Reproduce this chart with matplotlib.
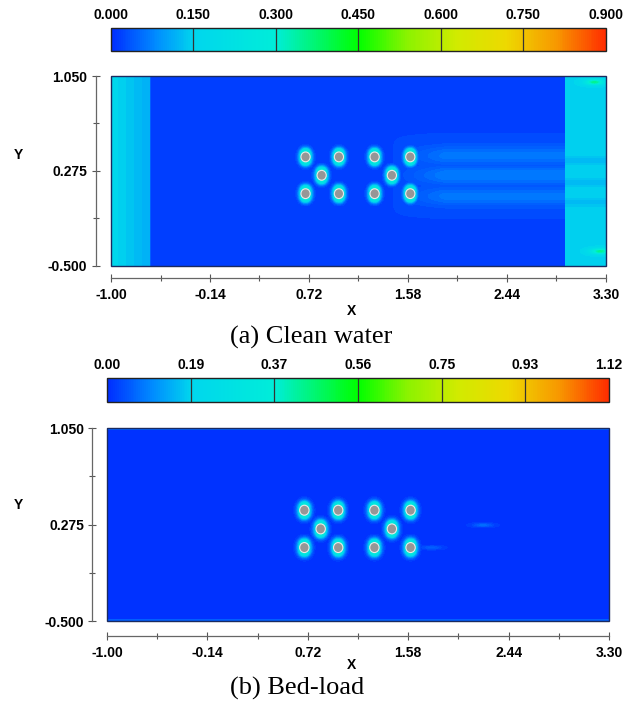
import numpy as np
import matplotlib.pyplot as plt
from matplotlib.colors import LinearSegmentedColormap, Normalize
from matplotlib.cm import ScalarMappable
from matplotlib.patches import Circle, Rectangle

# domain and axis ticks
x_range = [-1.00, 3.30]
y_range = [-0.500, 1.050]
x_ticks = [-1.00, -0.14, 0.72, 1.58, 2.44, 3.30]
y_ticks = [-0.500, 0.275, 1.050]

# pile centres
pile_x = [0.69, 0.98, 1.29, 1.60, 0.83, 1.44, 0.69, 0.98, 1.29, 1.60]
pile_y = [0.39, 0.39, 0.39, 0.39, 0.24, 0.24, 0.09, 0.09, 0.09, 0.09]
pile_r = 0.04

# (a) clean water
cw_ticks = [0.000, 0.150, 0.300, 0.450, 0.600, 0.750, 0.900]
cw_tick_labels = ['0.000', '0.150', '0.300', '0.450', '0.600', '0.750', '0.900']
cw_background = 0.02
cw_inlet_end = -0.66
cw_inlet_level = [0.16, 0.11]
cw_outlet_start = 2.95
cw_outlet_level = 0.15
cw_outlet_stripe_y = [0.36, 0.18, 0.02]
cw_wake_y = [0.40, 0.24, 0.07]
cw_wake_level = [0.045, 0.05, 0.045]
cw_halo = 0.17
cw_spot_x = [3.20, 3.25]
cw_spot_y = [1.00, -0.38]

# (b) bed-load
bl_ticks = [0.00, 0.19, 0.37, 0.56, 0.75, 0.93, 1.12]
bl_tick_labels = ['0.00', '0.19', '0.37', '0.56', '0.75', '0.93', '1.12']
bl_background = 0.01
bl_edge_level = 0.06
bl_halo = 0.21
bl_streak_x = [2.22, 1.78]
bl_streak_y = [0.27, 0.09]
bl_streak_level = [0.06, 0.045]

cmap = LinearSegmentedColormap.from_list('tecplot', [
    (0.00, (0.00, 0.18, 1.00)),
    (0.09, (0.00, 0.55, 1.00)),
    (0.167, (0.00, 0.84, 0.93)),
    (0.333, (0.00, 0.93, 0.85)),
    (0.50, (0.00, 1.00, 0.00)),
    (0.60, (0.55, 0.95, 0.00)),
    (0.70, (0.82, 0.92, 0.00)),
    (0.80, (0.93, 0.85, 0.00)),
    (0.90, (0.97, 0.60, 0.00)),
    (1.00, (1.00, 0.18, 0.00)),
])

X, Y = np.meshgrid(np.linspace(*x_range, 861), np.linspace(*y_range, 311))


def halo_field(level):
    f = np.zeros_like(X)
    for px, py in zip(pile_x, pile_y):
        r = np.hypot((X - px) * 1.1, Y - py)
        s = ((Y - py) / np.maximum(r, 1e-6)) ** 2
        d = np.maximum(r - pile_r, 0)
        f = np.maximum(f, level * np.exp(-(d / 0.032) ** 1.6) * (1 + 0.8 * s))
    return f


def clean_water():
    f = np.full_like(X, cw_background)
    t = (X - x_range[0]) / (cw_inlet_end - x_range[0])
    inlet = cw_inlet_level[0] + (cw_inlet_level[1] - cw_inlet_level[0]) * t
    f = np.where(X < cw_inlet_end, inlet, f)
    wake = np.zeros_like(X)
    ramp = np.clip((X - 1.45) / 0.45, 0, 1)
    for wy, wl in zip(cw_wake_y, cw_wake_level):
        wake = np.maximum(wake, wl * ramp * np.exp(-((Y - wy) / 0.08) ** 2))
    f = np.where((X >= cw_inlet_end) & (X < cw_outlet_start), f + wake, f)
    out = np.full_like(X, cw_outlet_level)
    for sy in cw_outlet_stripe_y:
        out -= 0.025 * np.exp(-((Y - sy) / 0.04) ** 2)
    f = np.where(X >= cw_outlet_start, out, f)
    for sx, sy in zip(cw_spot_x, cw_spot_y):
        f += 0.2 * np.exp(-(((X - sx) / 0.08) ** 2 + ((Y - sy) / 0.02) ** 2))
    return np.maximum(f, halo_field(cw_halo))


def bed_load():
    f = np.full_like(X, bl_background)
    f = np.where((Y > y_range[1] - 0.012) | (Y < y_range[0] + 0.012), bl_edge_level, f)
    for sx, sy, sl in zip(bl_streak_x, bl_streak_y, bl_streak_level):
        f += sl * np.exp(-(((X - sx) / 0.08) ** 2 + ((Y - sy) / 0.012) ** 2))
    return np.maximum(f, halo_field(bl_halo))


def draw_panel(ax, cax, field, vmax, ticks, tick_labels, yoff, xoff):
    ax.contourf(X, Y, field, levels=np.linspace(0, vmax, 90), cmap=cmap, extend='both')
    for px, py in zip(pile_x, pile_y):
        ax.add_patch(Circle((px, py), pile_r, facecolor='#969696', edgecolor='#e8e8e8', lw=0.8, zorder=3))
    ax.add_patch(Rectangle((0, 0), 1, 1, transform=ax.transAxes, fill=False,
                           edgecolor='#1a2a60', lw=1.0, zorder=5, clip_on=False))
    ax.set_xlim(*x_range)
    ax.set_ylim(*y_range)
    ax.spines[['top', 'right']].set_visible(False)
    ax.spines['left'].set_position(('outward', yoff))
    ax.spines['bottom'].set_position(('outward', xoff))
    for s in ['left', 'bottom']:
        ax.spines[s].set_color('#666666')
        ax.spines[s].set_linewidth(0.9)
    ax.set_xticks(x_ticks)
    ax.set_xticklabels(['%.2f' % v for v in x_ticks])
    ax.set_yticks(y_ticks)
    ax.set_yticklabels(['%.3f' % v for v in y_ticks])
    ax.set_xticks([(a + b) / 2 for a, b in zip(x_ticks[:-1], x_ticks[1:])], minor=True)
    ax.set_yticks([(a + b) / 2 for a, b in zip(y_ticks[:-1], y_ticks[1:])], minor=True)
    ax.tick_params(which='both', direction='inout', color='#555555', width=0.8)
    ax.tick_params(which='major', length=6)
    ax.tick_params(which='minor', length=5)
    ax.tick_params(axis='x', pad=4)
    ax.tick_params(axis='y', pad=3)
    for lab in ax.get_xticklabels() + ax.get_yticklabels():
        lab.set_fontweight('bold')
        lab.set_fontsize(10)

    cb = fig.colorbar(ScalarMappable(Normalize(0, vmax), cmap), cax=cax, orientation='horizontal')
    pos = np.linspace(0, vmax, len(ticks))
    cb.set_ticks(pos)
    cb.set_ticklabels(tick_labels)
    cax.xaxis.set_ticks_position('top')
    cax.tick_params(length=0, pad=4)
    for lab in cax.get_xticklabels():
        lab.set_fontweight('bold')
        lab.set_fontsize(10)
    for p in pos[1:-1]:
        cax.axvline(p, color='#333333', lw=0.9)
    cb.outline.set_edgecolor('#222222')
    cb.outline.set_linewidth(1.0)


plt.rcParams['font.family'] = ['Liberation Sans', 'DejaVu Sans']
fig = plt.figure(figsize=(6.42, 7.07), dpi=100)

ax1 = fig.add_axes([0.1729, 0.6238, 0.771, 0.2687])
cax1 = fig.add_axes([0.1729, 0.9279, 0.771, 0.0325])
draw_panel(ax1, cax1, clean_water(), 0.9, cw_ticks, cw_tick_labels, 11, 9)

ax2 = fig.add_axes([0.1667, 0.1216, 0.782, 0.2730])
cax2 = fig.add_axes([0.1667, 0.4314, 0.782, 0.0340])
draw_panel(ax2, cax2, bed_load(), 1.12, bl_ticks, bl_tick_labels, 10.5, 11)

fig.text(0.028, 0.7808, 'Y', fontsize=10, fontweight='bold', ha='center', va='center')
fig.text(0.028, 0.2857, 'Y', fontsize=10, fontweight='bold', ha='center', va='center')
fig.text(0.548, 0.5601, 'X', fontsize=10, fontweight='bold', ha='center', va='center')
fig.text(0.548, 0.0594, 'X', fontsize=10, fontweight='bold', ha='center', va='center')
fig.text(0.358, 0.5233, '(a) Clean water', fontsize=19, family='Liberation Serif', ha='left', va='center')
fig.text(0.358, 0.0269, '(b) Bed-load', fontsize=19, family='Liberation Serif', ha='left', va='center')

fig.savefig('out.png', dpi=100)
